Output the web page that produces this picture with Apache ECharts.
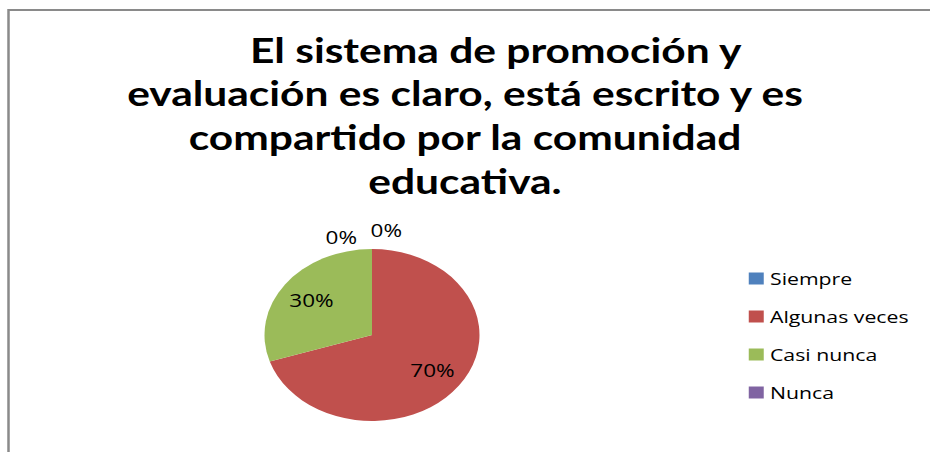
<!DOCTYPE html>
<html>
<head>
<meta charset="utf-8">
<script src="https://cdn.jsdelivr.net/npm/echarts@6/dist/echarts.min.js"></script>
<style>
html, body { margin: 0; padding: 0; background: #fff; overflow: hidden; width: 930px; height: 452px; }
#wrap { position: absolute; left: 0; top: 0; width: 744px; height: 452px; transform: scaleX(1.25); transform-origin: 0 0; }
#chart { width: 744px; height: 452px; }
</style>
</head>
<body>
<div id="wrap"><div id="chart"></div></div>
<script>
// ---- data ----
const categories = ['Siempre', 'Algunas veces', 'Casi nunca', 'Nunca'];
const values = [0, 70, 30, 0];
const titleLines = [
  'El sistema de promoción y',
  'evaluación es claro, está escrito y es',
  'compartido por la comunidad',
  'educativa.'
];

// ---- layout (in unstretched chart space; the page stretches it 1.25x horizontally) ----
const CX = 297.6, CY = 335, R = 86;
const titleFont = { fontFamily: 'Lato', fontWeight: 'bold', fontSize: 34, lineHeight: 44, color: '#000' };

const chart = echarts.init(document.getElementById('chart'), null, { renderer: 'svg', width: 744, height: 452 });

const option = {
  backgroundColor: '#fff',
  animation: false,
  color: ['#4F81BD', '#C0504D', '#9BBB59', '#8064A2'],
  title: [
    { text: titleLines[0], left: 200, top: 28, padding: 0, textAlign: 'left', textStyle: titleFont },
    { text: titleLines.slice(1).join('\n'), left: 'center', top: 71, padding: [0, 0, 0, 8], textStyle: titleFont }
  ],
  graphic: [{
    type: 'polyline',
    shape: { points: [[6.8, 452], [6.8, 10], [744, 10]] },
    style: { stroke: '#8a8a8a', lineWidth: 2, fill: null },
    silent: true
  }],
  legend: {
    orient: 'vertical',
    left: 599,
    top: 270,
    padding: 0,
    itemWidth: 12,
    itemHeight: 12,
    itemGap: 21,
    icon: 'rect',
    textStyle: { fontFamily: 'Open Sans', fontSize: 17, color: '#000' },
    data: categories
  },
  series: [{
    type: 'pie',
    center: [CX, CY],
    radius: R,
    startAngle: 90,
    clockwise: true,
    avoidLabelOverlap: false,
    emphasis: { disabled: true },
    itemStyle: { borderWidth: 0 },
    label: {
      position: 'inside',
      formatter: '{d}%',
      fontFamily: 'Open Sans',
      fontSize: 18,
      color: '#000'
    },
    labelLine: { show: false },
    labelLayout: function (p) {
      const i = p.dataIndex;
      const r = p.labelRect;
      const lx = r.x + r.width / 2, ly = r.y + r.height / 2;
      if (values[i] === 0) {
        // zero slices sit at the top edge: the one at the start goes right, the one at the end goes left
        let before = 0;
        for (let k = 0; k < i; k++) before += values[k];
        const atStart = before === 0;
        const tx = atStart ? CX + 11.4 : CX - 24.6;
        const ty = atStart ? CY - R - 19 : CY - R - 12;
        return { dx: tx - lx, dy: ty - ly };
      }
      return { dx: (lx - CX) * 0.3, dy: (ly - CY) * 0.3 };
    },
    data: categories.map(function (c, i) {
      return { name: c, value: values[i] };
    })
  }]
};
chart.setOption(option);
</script>
</body>
</html>
